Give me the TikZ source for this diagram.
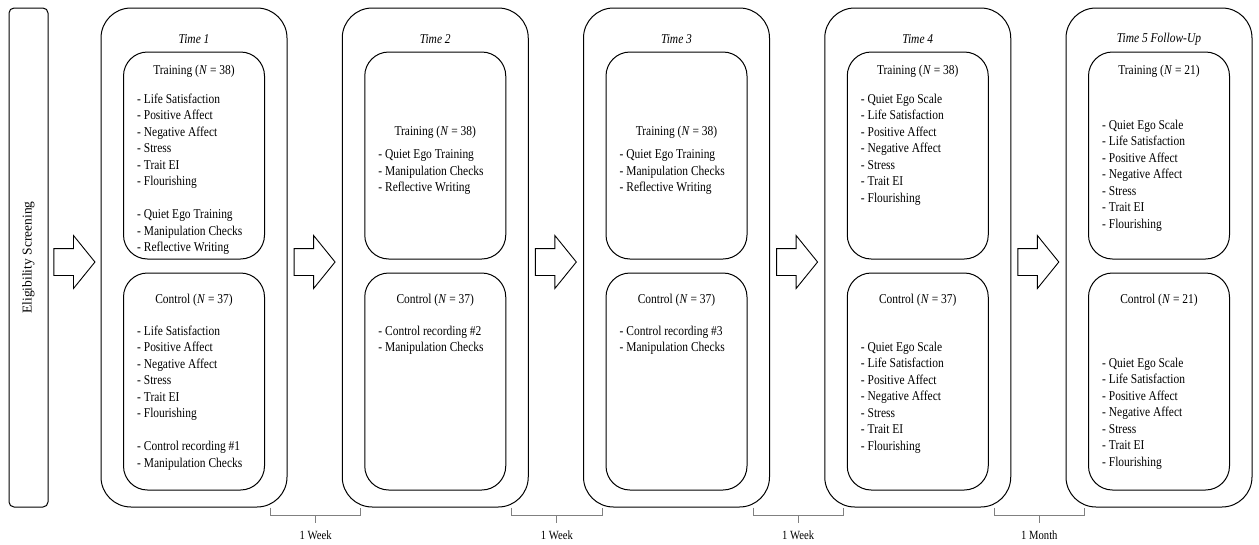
\documentclass[tikz,border=0pt]{standalone}
\usepackage{fontspec}
\setmainfont{Liberation Serif}[FakeStretch=0.85]
\newfontfamily\uprightfont{Liberation Serif}
\usetikzlibrary{calc,shapes.arrows}

\tikzset{
  phase/.style={draw, line width=1pt, rounded corners=30pt, minimum width=186pt, minimum height=499pt, inner sep=0pt},
  group/.style={draw, line width=1pt, rounded corners=24pt, minimum width=141pt, inner sep=0pt},
  items/.style={align=left, anchor=north west, inner sep=0pt},
  blockarrow/.style={draw, line width=.9pt, single arrow, single arrow head extend=13pt, single arrow tip angle=102,
    minimum height=41pt, minimum width=52pt, inner xsep=0pt, inner ysep=13pt},
  brace/.style={draw=gray, line width=.8pt}
}

\begin{document}
\begin{tikzpicture}
	[x=1pt,y=-1pt,font=\fontsize{13.5}{16.5}\selectfont]
	\useasboundingbox (0,0) rectangle (1259,544);
	\node[draw, line width=1pt, rounded corners=5pt, minimum width=39pt, minimum height=499pt] (s) at (28.5,257.5) {};
	\node[rotate=90, font=\uprightfont\fontsize{13.5}{16}\selectfont] at (s) {Eligibility Screening};
	
	\foreach \k in {1,...,5} {
		\node[phase] (t\k) at (194+241.25*\k-241.25,257.5) {};
		\node[group, minimum height=207pt] (tr\k) at (194+241.25*\k-241.25,155.5) {};
		\node[group, minimum height=217pt] (co\k) at (194+241.25*\k-241.25,381.5) {};
	}
	\foreach \k/\t in {1/Time 1,2/Time 2,3/Time 3,4/Time 4,5/Time 5 Follow-Up}
	\node[font=\fontsize{13.5}{16.5}\selectfont\itshape] at ($(t\k.north)+(0,32)$) {\t};
	
	% group titles
	\foreach \k/\n/\d in {1/38/20,2/38/81,3/38/81,4/38/20,5/21/20}
	\node at ($(tr\k.north)+(0,\d)$) {Training (\textit{N} = \n)};
	\foreach \k/\n in {1/37,2/37,3/37,4/37,5/21}
	\node at ($(co\k.north)+(0,28)$) {Control (\textit{N} = \n)};
	
	% measures
	\node[items] at ($(tr1.north west)+(14,42)$) {- Life Satisfaction\\- Positive Affect\\- Negative Affect\\- Stress\\- Trait EI\\- Flourishing\\[16.5pt]- Quiet Ego Training\\- Manipulation Checks\\- Reflective Writing};
	\node[items] at ($(co1.north west)+(14,53)$) {- Life Satisfaction\\- Positive Affect\\- Negative Affect\\- Stress\\- Trait EI\\- Flourishing\\[16.5pt]- Control recording \#1\\- Manipulation Checks};
	\foreach \k in {2,3} {
		\node[items] at ($(tr\k.north west)+(14,98)$) {- Quiet Ego Training\\- Manipulation Checks\\- Reflective Writing};
		\node[items] at ($(co\k.north west)+(14,53)$) {- Control recording \#\k\\- Manipulation Checks};
	}
	\foreach \g/\d in {tr4/42,co4/69,tr5/68,co5/85}
	\node[items] at ($(\g.north west)+(14,\d)$) {- Quiet Ego Scale\\- Life Satisfaction\\- Positive Affect\\- Negative Affect\\- Stress\\- Trait EI\\- Flourishing};
	
	\foreach \a/\b in {s/t1,t1/t2,t2/t3,t3/t4,t4/t5}
	\node[blockarrow] at ($(\a.east)!0.5!(\b.west)+(-5.5,4.5)$) {};
	
	% intervals
	\foreach \a/\b/\t in {t1/t2/1 Week,t2/t3/1 Week,t3/t4/1 Week,t4/t5/1 Month} {
		\coordinate (p) at ($(\a.south east)+(-17,0)$);
		\coordinate (q) at ($(\b.south west)+(19,0)$);
		\draw[brace] (p) -- ++(0,8) -| (q);
		\draw[brace] ($(p)!0.5!(q)+(0,8)$) -- ++(0,7) node[below=5pt, black, font=\fontsize{12.5}{15}\selectfont] {\t};
	}
\end{tikzpicture}
\end{document}
